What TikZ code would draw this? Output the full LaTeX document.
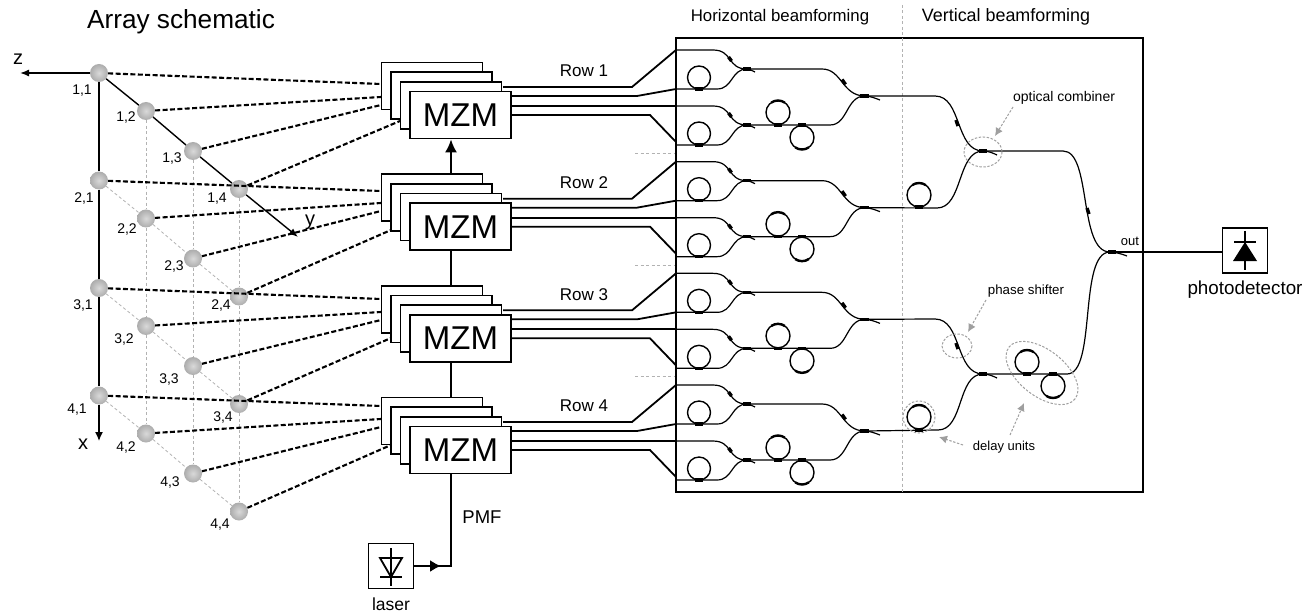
\documentclass[tikz,border=0pt]{standalone}
\usepackage{fontspec}
\setmainfont{Liberation Sans}
\usetikzlibrary{arrows.meta,calc}
\newcommand{\fsz}[1]{\fontsize{#1}{#1}\selectfont}

\begin{document}
\begin{tikzpicture}[x=1pt,y=-1pt,
   txt/.style={inner sep=0pt,font=\fsz{#1}},
   elem/.style={circle,inner sep=0pt,minimum size=18pt,inner color=gray!30,outer color=gray!65},
   mzmbox/.style={rectangle,draw,line width=1.8pt,fill=white,minimum width=101pt,minimum height=47pt,inner sep=0pt},
   diodebox/.style={rectangle,draw,line width=1.8pt,minimum width=45pt,minimum height=45pt},
   feed/.style={line width=2.1pt,dash pattern=on 5pt off 2.4pt},
   grid/.style={gray!60,line width=0.8pt,dash pattern=on 3pt off 2.5pt},
   axis/.style={line width=1.4pt},
   wire/.style={line width=1.8pt},
   wg/.style={line width=1.2pt},
   hot/.style={line width=3.4pt},
   rng/.style={line width=1.4pt},
   thickarc/.style={line width=2.4pt},
   note/.style={gray!75,line width=1pt,dash pattern=on 2.4pt off 1.6pt},
   notearrow/.style={note,-{Latex[length=8pt,width=8pt]}}]
\useasboundingbox (0,0) rectangle (1316,612);

% array elements
\foreach \r in {0,1,2,3} {
   \node[elem] (n\r0) at (99,73+107.5*\r) {};
   \node[elem] (n\r1) at (146,111+107.5*\r) {};
   \node[elem] (n\r2) at (193,151+107.5*\r) {};
   \node[elem] (n\r3) at (239,189+107.5*\r) {};
}
\foreach \n/\x/\y/\l in %
{00/82/91/{1,1},01/126/118/{1,2},02/172/159/{1,3},03/217/199/{1,4},
 10/84/199/{2,1},11/127/230/{2,2},12/174/267/{2,3},13/221/306/{2,4},
 20/83/306/{3,1},21/124/340/{3,2},22/169/380/{3,3},23/223/418/{3,4},
 30/77/410/{4,1},31/126/448/{4,2},32/170/483/{4,3},33/220/525/{4,4}} {
   \node[txt=14] (l\n) at (\x,\y) {\l};
}
\node[txt=26.2] (title) at (181,22) {Array schematic};

% grey grid
\foreach \c in {1,2,3} {
   \draw[grid] (n0\c) -- (n1\c);
   \draw[grid] (n1\c) -- (n2\c);
   \draw[grid] (n2\c) -- (n3\c);
}
\foreach \r in {1,2,3} {
   \draw[grid] (n\r0) -- (n\r1);
   \draw[grid] (n\r1) -- (n\r2);
   \draw[grid] (n\r2) -- (n\r3);
}

% axes
\coordinate (zend) at (20,73);
\coordinate (xend) at (99,441);
\coordinate (yend) at (298,237);
\draw[axis,-{Latex[length=9pt,width=7pt]}] (n00) -- (zend);
\draw[axis] (n00) -- (n10);
\draw[axis] (n10) -- (n20);
\draw[axis] (n20) -- (n30);
\draw[axis,-{Latex[length=9pt,width=8pt]}] (n30) -- (xend);
\draw[axis] (n00) -- (n01);
\draw[axis] (n01) -- (n02);
\draw[axis] (n02) -- (n03);
\draw[axis,-{Latex[length=9pt,width=7pt]}] (n03) -- (yend);
\node[txt=20] (zlab) at (18,59) {z};
\node[txt=20] (xlab) at (83,444) {x};
\node[txt=20] (ylab) at (310,222) {y};

% modulators
\foreach \r in {0,1,2,3} {
   \foreach \s in {0,1,2,3} {
      \node[mzmbox] (m\r\s) at (432+9.5*\s,86+9.67*\s+111.67*\r) {};
   }
   \node[txt=33] (mzm\r) at (m\r3) {MZM};
}
\draw[wire,-{Latex[length=13pt,width=12pt]}] (m22 |- m10.north) -- (m22 |- m03.south);
\draw[wire] (m22 |- m13.south) -- (m22 |- m20.north);
\draw[wire] (m22 |- m23.south) -- (m22 |- m30.north);

% feed lines
\foreach \r/\a/\b/\c/\dx/\dy in %
{0/84/97/105/400/121,1/191/203/211/391/230,2/299/312/320/391/338,3/406/419/427/391/445} {
   \coordinate (fa\r) at (381,\a);
   \coordinate (fb\r) at (381,\b);
   \coordinate (fc\r) at (381,\c);
   \coordinate (fd\r) at (\dx,\dy);
   \draw[feed] (n\r0) -- (fa\r);
   \draw[feed] (n\r1) -- (fb\r);
   \draw[feed] (n\r2) -- (fc\r);
   \draw[feed] (n\r3) -- (fd\r);
}

% chip
\node[rectangle,draw,line width=2pt,minimum width=467pt,minimum height=454pt,inner sep=0pt] (chip) at (909.5,265) {};
\draw[grid,line width=1pt] (902,5) -- (902,492);
\node[txt=16.8] (hbf) at (780,17) {Horizontal beamforming};
\node[txt=17.9] (vbf) at (1006,17) {Vertical beamforming};

% one row: wires and horizontal tree
\foreach \r/\n in {0/1,1/2,2/3,3/4} {
\begin{scope}[shift={(0,111.67*\r)}]
   \node[txt=17] (row\n) at (584,71) {Row \n};
   \draw[wire] (503,87) -- (632,87) -- (676,50);
   \draw[wire] (512,96) -- (637,96) -- (676,89);
   \draw[wire] (512,106) -- (676,106);
   \draw[wire] (512,115) -- (650,115) -- (676,142);
   % first pair
   \foreach \d in {0,56} {
      \draw[wg] (676,50+\d) -- (713,50+\d) .. controls (733,50+\d) and (727,69+\d) .. (747,69+\d)
         .. controls (750,69+\d) and (752,71+\d) .. (755,72+\d);
      \draw[wg] (676,89+\d) -- (717,89+\d) .. controls (733,89+\d) and (731,69+\d) .. (747,69+\d);
      \draw[hot] (728.5,57+\d) -- (731.5,61+\d);
      \draw[hot] (743,69+\d) -- (751,69+\d);
      \draw[rng] (699,77.5+\d) circle (11.5);
      \draw[hot] (695,89+\d) -- (703,89+\d);
   }
   % second stage
   \draw[wg] (747,69) -- (822,69) .. controls (842,69) and (842,96) .. (865,96)
      .. controls (869,96) and (875,98) .. (880,100);
   \draw[wg] (747,125) -- (830,125) .. controls (848,125) and (846,96) .. (865,96);
   \draw[hot] (842,79.5) -- (845.5,84.5);
   \draw[hot] (860,96) -- (869,96);
   \draw[rng] (778,112.5) circle (12);
   \draw[hot] (774,125) -- (782,125);
   \draw[thickarc] (778,112.5) ++(235:12) arc (235:305:12);
   \draw[rng] (802,137.5) circle (12);
   \draw[hot] (798,125) -- (806,125);
   \draw[thickarc] (802,137.5) ++(55:12) arc (55:125:12);
   \coordinate (t\r) at (865,96);
\end{scope}
}
\foreach \y in {153,265,376} {
   \draw[grid] (635,\y) -- (675,\y);
}

% vertical tree
\coordinate (ca) at (983,151);
\coordinate (cb) at (983,374);
\coordinate (out) at (1110,252);
\draw[wg] (t0) -- (935,96) .. controls (962,96) and (955,151) .. (ca) .. controls (988,151) and (993,153) .. (997,155);
\draw[wg] (t1) -- (937,208) .. controls (963,208) and (957,151) .. (ca);
\draw[wg] (t2) -- (935,319) .. controls (962,319) and (955,374) .. (cb) .. controls (988,374) and (993,376) .. (997,378);
\draw[wg] (t3) -- (938,430) .. controls (964,430) and (957,374) .. (cb);
\draw[wg] (ca) -- (1063,151) .. controls (1092,151) and (1078,252) .. (out) .. controls (1115,252) and (1122,254) .. (1127,256);
\draw[wg] (cb) -- (1067,374) .. controls (1097,374) and (1078,252) .. (out);
\foreach \x/\y in {957/123,957/346,1088/211} {
   \draw[hot] (\x-1,\y-3) -- (\x+1,\y+3);
}
\foreach \x/\y in {983/151,983/374,1112/252} {
   \draw[hot] (\x-4,\y) -- (\x+4,\y);
}
\foreach \x/\y in {919/195,919/417,1027/362,1053/386} {
   \draw[rng] (\x,\y) circle (12);
}
\foreach \x/\y in {919/207,919/430,1027/374,1053/374} {
   \draw[hot] (\x-4,\y) -- (\x+4,\y);
}
\foreach \x/\y in {919/195,919/417,1027/362} {
   \draw[thickarc] (\x,\y) ++(235:12) arc (235:305:12);
}
\draw[thickarc] (1053,386) ++(55:12) arc (55:125:12);

% notes
\draw[note] (983,152) ellipse [x radius=19,y radius=15];
\draw[note] (957,346) ellipse [x radius=15,y radius=12];
\draw[note] (919,417) circle (16);
\draw[note] (1042,373) ellipse [x radius=42,y radius=23,rotate=-38];
\node[txt=14] (combnote) at (1064,98) {optical combiner};
\node[txt=13.3] (phasenote) at (1026,291) {phase shifter};
\node[txt=13] (delaynote) at (1004,447) {delay units};
\draw[notearrow] (1013,107) -- (995,136);
\draw[notearrow] (986,300) -- (968,332);
\draw[notearrow] (963,445) -- (939,437);
\draw[notearrow] (1010,435) -- (1024,403);
\node[txt=13] (outlab) at (1130,241) {out};

% detector
\node[diodebox] (pd) at (1245,250.5) {};
\draw[wire] (out) -- (out -| pd.west);
\draw[wire] (1245,231) -- (1245,270);
\draw[wire] (1234,242) -- (1256,242);
\fill (1245,242) -- (1257,261) -- (1233,261) -- cycle;
\node[txt=18.8] (pdlab) at (1245,290) {photodetector};

% laser
\node[diodebox] (laser) at (391,566) {};
\draw[wire] (391,548) -- (391,586);
\draw[wire] (380,577) -- (402,577);
\draw[wire] (391,577) -- (380,558) -- (402,558) -- cycle;
\draw[wire] (laser) -| (m32 |- m33.south);
\draw[wire,-{Latex[length=11pt,width=12pt]}] (laser) -- (441,566);
\node[txt=17.5] (laserlab) at (391,604) {laser};
\node[txt=18.5] (pmf) at (482,517) {PMF};
\end{tikzpicture}
\end{document}
